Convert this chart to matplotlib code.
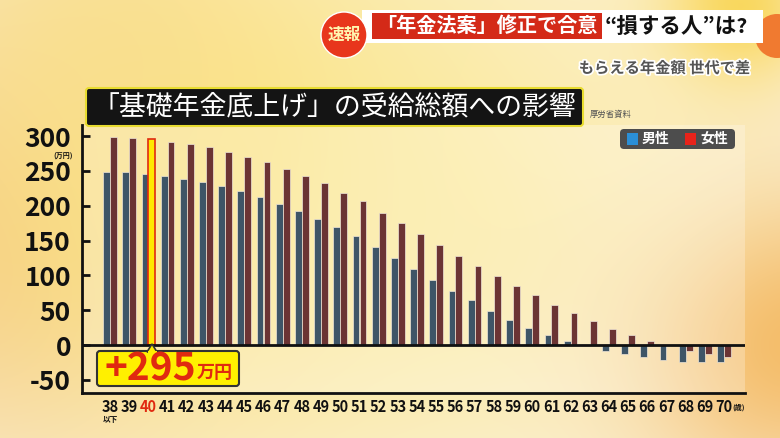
import numpy as np
import matplotlib
matplotlib.use("Agg")
import matplotlib.pyplot as plt
from matplotlib.patches import FancyBboxPatch, Rectangle, Circle, Polygon
from matplotlib.transforms import Affine2D
import matplotlib.patheffects as pe

# ---------------- data ----------------
ages = [str(a) for a in range(38, 71)]
male = [248, 248, 246, 243, 239, 234, 228, 221, 213, 203, 193, 181, 169, 156, 141,
        125, 109, 93, 78, 64, 49, 36, 25, 15, 6, 0, -8, -13, -17, -22, -24, -24, -24]
female = [298, 297, 295, 292, 289, 284, 277, 270, 262, 252, 243, 232, 218, 206, 190,
          175, 159, 143, 128, 113, 99, 85, 72, 58, 46, 35, 23, 15, 6, 0, -8, -13, -17]
yticks = [300, 250, 200, 150, 100, 50, 0, -50]
highlight_age = "40"
highlight_label = "+295"
title = "「基礎年金底上げ」の受給総額への影響"
source = "厚労省資料"
legend_labels = ["男性", "女性"]
header_red = "「年金法案」修正で合意"
header_black = "“損する人”は?"
header_badge = "速報"
subtitle = "もらえる年金額 世代で差"

JP = ["Noto Sans CJK JP", "DejaVu Sans"]
plt.rcParams['font.family'] = JP

W, H = 780, 438
fig = plt.figure(figsize=(W / 100, H / 100), dpi=100)
P = Affine2D().scale(1 / W, -1 / H).translate(0, 1) + fig.transFigure

# ---------------- background ----------------
bg = fig.add_axes([0, 0, 1, 1], zorder=-10)
yy, xx = np.mgrid[0:H, 0:W]
img = np.ones((H, W, 3)) * np.array([251, 242, 222]) / 255.0
blobs = [
    (0, 230, 160, (245, 200, 135), 0.95),
    (230, 170, 190, (250, 228, 125), 0.9),
    (470, 200, 150, (251, 233, 150), 0.8),
    (790, 340, 110, (244, 186, 100), 0.95),
    (735, 10, 55, (249, 210, 70), 0.95),
    (110, 40, 110, (250, 222, 140), 0.7),
    (620, 120, 110, (252, 238, 185), 0.5),
]
for cx, cy, r, col, a in blobs:
    w = a * np.exp(-((xx - cx) ** 2 + (yy - cy) ** 2) / (2 * r ** 2))
    img = img * (1 - w[..., None]) + np.array(col)[None, None, :] / 255.0 * w[..., None]
bg.imshow(img, extent=[0, 1, 0, 1], aspect='auto')
bg.axis('off')

# ---------------- chart ----------------
ax = fig.add_axes([82 / W, 1 - 393 / H, (745 - 82) / W, (393 - 125) / H])
ax.set_facecolor((1, 1, 1, 0.25))
x = np.arange(len(ages))
bw = 0.355
hi = ages.index(highlight_age)
fcols = ['#6b3434'] * len(ages)
fedges = ['#efe6d8'] * len(ages)
fcols[hi] = '#ffe600'
fedges[hi] = '#e02a10'
ax.bar(x - 0.18, male, bw, color='#3e5567', edgecolor='#efe6d8', linewidth=0.5, zorder=3)
ax.bar(x + 0.18, female, bw, color=fcols, edgecolor=fedges,
       linewidth=[0.5 if i != hi else 1.2 for i in range(len(ages))], zorder=3)
ax.axhline(0, color='#111111', lw=2.0, zorder=4)
ax.set_xlim(-1.46, 33.09)
ax.set_ylim(-68.9, 315.8)
for s in ['top', 'right']:
    ax.spines[s].set_visible(False)
for s in ['left', 'bottom']:
    ax.spines[s].set_linewidth(2.0)
    ax.spines[s].set_color('#111111')
ax.set_yticks(yticks)
ax.set_yticklabels([str(v) for v in yticks], fontsize=19, fontweight='bold', color='#111111')
ax.tick_params(axis='y', direction='in', length=6, width=2, pad=8, color='#111111')
ax.set_xticks(x)
ax.set_xticklabels(ages, fontsize=10.5, fontweight='bold', color='#111111')
ax.tick_params(axis='x', length=0, pad=4)
ax.get_xticklabels()[hi].set_color('#e02a10')
ax.text(x[0], -0.1, "以下", transform=ax.get_xaxis_transform(), ha='center', va='center',
        fontsize=5.5, fontweight='bold', color='#111111')
ax.text(1.0, -0.052, "(歳)", transform=ax.transAxes, ha='right', va='center',
        fontsize=5, fontweight='bold', color='#111111')
fig.text(73 / W, 1 - 156 / H, "(万円)", ha='right', va='center', fontsize=5, fontweight='bold', color='#111111')

# ---------------- callout ----------------
cb = FancyBboxPatch((97, 351), 142, 35, boxstyle="round,pad=0,rounding_size=3",
                    fc='#fff000', ec='#333333', lw=1.5, transform=P, zorder=20)
fig.patches.append(cb)
tri = Polygon([[147, 352], [152, 344], [157, 352]], closed=True, fc='#fff000', ec='#333333', lw=1.2,
              transform=P, zorder=21)
fig.patches.append(tri)
fig.patches.append(Rectangle((147.5, 350.5), 9, 3, fc='#fff000', ec='none', transform=P, zorder=22))
fig.text(150 / W, 1 - 369 / H, highlight_label, ha='center', va='center', fontsize=28, fontweight='bold',
         color='#e02a10', zorder=30)
fig.text(215 / W, 1 - 372 / H, "万円", ha='center', va='center', fontsize=13, fontweight='bold',
         color='#e02a10', zorder=30)

# ---------------- title ----------------
tb = FancyBboxPatch((86, 88), 497, 38, boxstyle="round,pad=0,rounding_size=3",
                    fc='#141414', ec='#e8dc30', lw=1.5, transform=P, zorder=20)
fig.patches.append(tb)
fig.text(334 / W, 1 - 107 / H, title, ha='center', va='center', fontsize=19.4, color='white', zorder=30)
fig.text(590 / W, 1 - 114 / H, source, ha='left', va='center', fontsize=6, color='#555555', zorder=30)

# ---------------- legend ----------------
lb = FancyBboxPatch((620, 129), 115, 20, boxstyle="round,pad=0,rounding_size=4",
                    fc='#4d4d4d', ec='none', transform=P, zorder=20)
fig.patches.append(lb)
fig.patches.append(Rectangle((627, 133), 11, 12, fc='#2b8fd6', ec='none', transform=P, zorder=21))
fig.patches.append(Rectangle((685, 133), 11, 12, fc='#e8231a', ec='none', transform=P, zorder=21))
fig.text(642 / W, 1 - 139 / H, legend_labels[0], ha='left', va='center', fontsize=10, fontweight='bold', color='white', zorder=30)
fig.text(700 / W, 1 - 139 / H, legend_labels[1], ha='left', va='center', fontsize=10, fontweight='bold', color='white', zorder=30)

# ---------------- header ----------------
fig.patches.append(Circle((777, 36), 22, fc='#f07a30', ec='none', transform=P, zorder=18))
fig.patches.append(Rectangle((362, 10), 401, 33, fc='white', ec='none', transform=P, zorder=19))
fig.patches.append(Rectangle((372, 13), 230, 26, fc='#d42a18', ec='none', transform=P, zorder=20))
fig.patches.append(Circle((344, 35), 23, fc='#e8361c', ec='white', lw=1.0, transform=P, zorder=21))
fig.text(344 / W, 1 - 35 / H, header_badge, ha='center', va='center', fontsize=12, fontweight='bold',
         color='#fff6b0', zorder=30)
fig.text(487 / W, 1 - 26 / H, header_red, ha='center', va='center', fontsize=14.5, fontweight='bold',
         color='white', zorder=30)
fig.text(676 / W, 1 - 26 / H, header_black, ha='center', va='center', fontsize=15.5, fontweight='bold',
         color='#111111', zorder=30)
fig.text(750 / W, 1 - 68 / H, subtitle, ha='right', va='center', fontsize=11, fontweight='bold',
         color='#555555', zorder=30,
         path_effects=[pe.withStroke(linewidth=2.5, foreground='white')])

fig.savefig("out.png", dpi=100)
